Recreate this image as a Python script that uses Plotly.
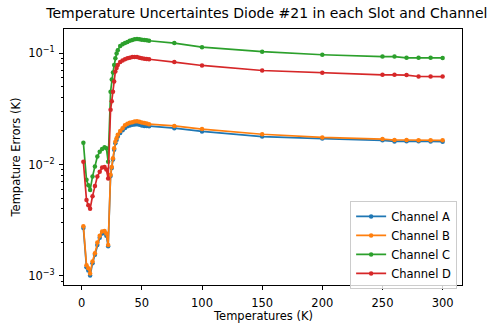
import plotly.graph_objects as go

# Measurement temperatures (K)
temperatures = [1.4, 4, 5.5, 7, 9, 11, 13, 15, 17, 19, 20.5, 22, 24, 25, 26, 27, 28, 29,
                30, 32, 34, 36, 38, 40, 42, 44, 46, 48, 50, 52, 54, 56, 77, 100, 150,
                200, 250, 260, 270, 280, 290, 300]

# Temperature uncertainty per channel (K)
channel_a = [0.0027, 0.0012, 0.00112, 0.00101, 0.0013, 0.00155, 0.0019, 0.0022, 0.0024,
             0.00245, 0.0023, 0.00185, 0.0079, 0.0093, 0.0111, 0.0136, 0.0155, 0.0166,
             0.0178, 0.0192, 0.0203, 0.0213, 0.0220, 0.0224, 0.0227, 0.0229, 0.0230,
             0.0227, 0.0224, 0.0222, 0.0222, 0.0221, 0.0212, 0.0198, 0.0178, 0.0171,
             0.0165, 0.0161, 0.0162, 0.0162, 0.0161, 0.0160]
channel_b = [0.0028, 0.00125, 0.00117, 0.00105, 0.00135, 0.0016, 0.0020, 0.0023, 0.0025,
             0.00253, 0.0024, 0.0019, 0.0081, 0.0095, 0.0114, 0.0140, 0.0160, 0.0172,
             0.0185, 0.0200, 0.0212, 0.0225, 0.0232, 0.0237, 0.0240, 0.0243, 0.0245,
             0.0242, 0.0238, 0.0236, 0.0233, 0.0230, 0.0222, 0.0208, 0.0187, 0.0175,
             0.0169, 0.0166, 0.0166, 0.0165, 0.0165, 0.0165]
channel_c = [0.0157, 0.0073, 0.0065, 0.0059, 0.0078, 0.0096, 0.0118, 0.0130, 0.0138,
             0.0143, 0.0140, 0.0106, 0.045, 0.058, 0.067, 0.078, 0.090, 0.099,
             0.106, 0.116, 0.120, 0.123, 0.126, 0.129, 0.131, 0.133, 0.134,
             0.133, 0.132, 0.131, 0.130, 0.129, 0.123, 0.113, 0.103, 0.0966,
             0.093, 0.093, 0.0907, 0.0907, 0.0907, 0.0905]
channel_d = [0.0106, 0.0048, 0.0043, 0.0040, 0.0052, 0.0064, 0.0078, 0.0086, 0.0094,
             0.0095, 0.0090, 0.0075, 0.031, 0.037, 0.045, 0.0556, 0.0684, 0.0733,
             0.0780, 0.083, 0.0859, 0.088, 0.090, 0.091, 0.092, 0.092, 0.092,
             0.091, 0.090, 0.089, 0.0885, 0.088, 0.083, 0.0774, 0.0698, 0.0665,
             0.0638, 0.0638, 0.0635, 0.0616, 0.0616, 0.0615]

series_names = ["Channel A", "Channel B", "Channel C", "Channel D"]
series_colors = ["#1f77b4", "#ff7f0e", "#2ca02c", "#d62728"]

x_ticks = [0, 50, 100, 150, 200, 250, 300]
y_ticks = [0.001, 0.01, 0.1]
y_tick_labels = ["10<sup>\u22123</sup>", "10<sup>\u22122</sup>", "10<sup>\u22121</sup>"]
y_minor = [m * 10 ** e for e in (-4, -3, -2, -1) for m in range(2, 10)]

FONT = "DejaVu Sans"
FS = 11.5
W, H = 489, 326
L, R, T, B = 64.3, 461.7, 29.3, 285

fig = go.Figure()
for name, color, vals in zip(series_names, series_colors,
                             [channel_a, channel_b, channel_c, channel_d]):
    fig.add_trace(go.Scatter(
        x=temperatures, y=vals, name=name, mode="lines+markers",
        line=dict(color=color, width=1.7),
        marker=dict(color=color, size=4.5),
    ))

fig.update_layout(
    width=W, height=H,
    margin=dict(l=L, r=W - R, t=T, b=H - B, pad=0, autoexpand=False),
    paper_bgcolor="white", plot_bgcolor="white",
    font=dict(family=FONT, size=FS, color="#000000"),
    title=dict(text="Temperature Uncertaintes Diode #21 in each Slot and Channel",
               x=(L + R) / 2 / W + 0.008, xanchor="center", y=1 - 13 / H, yanchor="middle",
               font=dict(size=14, family=FONT, color="#000000")),
    showlegend=True,
    legend=dict(x=(350 - L) / (R - L), y=(B - 201) / (B - T),
                xanchor="left", yanchor="top",
                bgcolor="rgba(255,255,255,0.8)", bordercolor="#cccccc", borderwidth=1,
                font=dict(size=11.5, family=FONT), tracegroupgap=0,
                itemwidth=30),
    annotations=[
        dict(text="Temperatures (K)", xref="paper", yref="paper",
             x=0.5, y=-(316 - B) / (B - T), xanchor="center", yanchor="middle",
             showarrow=False, font=dict(size=FS, family=FONT)),
        dict(text="Tempature Errors (K)", xref="paper", yref="paper",
             x=-(L - 16) / (R - L), y=(B - 158) / (B - T), xanchor="center",
             yanchor="middle", textangle=-90,
             showarrow=False, font=dict(size=FS, family=FONT)),
    ],
)

fig.update_xaxes(
    range=[-14.7, 316.1], tickmode="array", tickvals=x_ticks,
    ticks="outside", ticklen=4, tickcolor="black", tickwidth=1,
    ticklabelstandoff=3, automargin=False,
    showline=True, linecolor="black", linewidth=1, mirror=True,
    showgrid=False, zeroline=False,
)
fig.update_yaxes(
    type="log", range=[-3.081, -0.784],
    tickmode="array", tickvals=y_ticks, ticktext=y_tick_labels,
    ticks="outside", ticklen=4, tickcolor="black", tickwidth=1,
    ticklabelstandoff=2, automargin=False,
    minor=dict(tickmode="array", tickvals=y_minor, ticks="outside", ticklen=2,
               tickcolor="black", showgrid=False),
    showline=True, linecolor="black", linewidth=1, mirror=True,
    showgrid=False, zeroline=False,
)

fig.write_html("out.html")
